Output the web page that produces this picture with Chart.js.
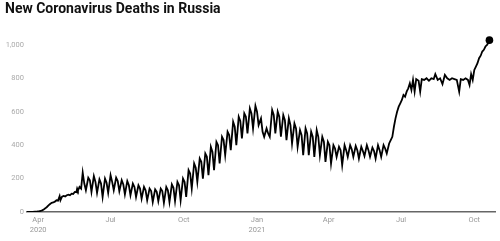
<!DOCTYPE html>
<html>
<head>
<meta charset="utf-8">
<script src="https://cdn.jsdelivr.net/npm/chart.js@4"></script>
<style>
  html, body { margin: 0; padding: 0; background: #fff; }
  #wrap { width: 500px; height: 241px; }
</style>
</head>
<body>
<div id="wrap"><canvas id="deathsChart"></canvas></div>
<script>
// day = days since 2020-03-15
const days = [
  3, 7, 10, 13, 16, 18, 20, 22, 24, 26, 28, 30, 32, 34, 36, 38, 40, 42, 44, 45,
  47, 49, 51, 53, 55, 57, 59, 61, 63, 65, 66, 67, 69, 71,
  73, 75, 77, 80, 82, 84, 87, 89, 91, 94, 96, 98,
  101, 103, 105, 108, 110, 112, 115, 117, 119, 122, 124, 126,
  129, 131, 133, 136, 138, 140, 143, 145, 147, 150, 152, 154,
  157, 159, 161, 164, 166, 168, 171, 173, 175, 178, 180, 182,
  185, 187, 189, 192, 194, 196, 199, 201, 203, 206, 208, 210,
  213, 215, 217, 220, 222, 224, 227, 229, 231, 234, 236, 238,
  241, 243, 245, 248, 250, 252, 255, 257, 259, 262, 264, 266,
  269, 271, 273, 276, 278, 280, 283, 285, 287, 290, 292, 294,
  297, 299, 301, 304, 306, 308, 311, 313, 315, 318, 320, 322,
  325, 327, 329, 332, 334, 336, 339, 341, 343, 346, 348, 350,
  353, 355, 357, 360, 362, 364, 367, 369, 371, 374, 376, 378,
  381, 383, 385, 388, 390, 392, 395, 397, 399, 402, 404, 406,
  409, 411, 413, 416, 418, 420, 423, 425, 427, 430, 432, 434,
  437, 439, 441, 444, 446, 448, 451, 453, 455,
  458, 460, 462, 464, 466, 468, 470, 472, 474, 476, 478, 480, 482, 484, 486, 488,
  490, 492, 495, 497, 499, 502, 505, 508, 511, 514, 516, 519, 522, 525, 528, 531,
  534, 537, 540, 543, 546, 548, 551, 554, 557, 559, 561, 563, 565, 567, 569, 571,
  573, 575, 577, 579, 581, 583, 584
];
const deaths = [
  0, 0, 1, 2, 3, 4, 6, 10, 15, 22, 30, 40, 48, 55, 57, 62, 70, 68, 95, 70,
  92, 96, 93, 100, 104, 100, 110, 108, 120, 118, 140, 128, 150, 140,
  235, 170, 130, 205, 190, 120, 215, 180, 115, 195, 170, 90,
  200, 175, 115, 220, 180, 130, 205, 185, 125, 190, 165, 105,
  185, 160, 100, 170, 150, 90, 160, 140, 80, 150, 130, 70,
  140, 125, 60, 135, 120, 65, 140, 125, 55, 150, 130, 60,
  165, 145, 65, 180, 160, 70, 200, 180, 90, 250, 230, 140,
  290, 265, 180, 320, 300, 200, 350, 330, 220, 390, 360, 250,
  420, 400, 290, 450, 430, 340, 480, 460, 370, 540, 510, 400,
  570, 545, 440, 590, 570, 470, 620, 590, 500, 635, 600, 520,
  560, 480, 450, 500, 470, 450, 610, 580, 470, 600, 570, 450,
  580, 550, 430, 560, 520, 410, 530, 500, 390, 490, 460, 340,
  500, 470, 340, 480, 450, 330, 490, 450, 340, 450, 420, 300,
  420, 400, 290, 400, 380, 330, 390, 370, 280, 400, 370, 330,
  400, 375, 330, 395, 370, 320, 390, 365, 335, 400, 370, 330,
  385, 365, 320, 400, 370, 330, 400, 380, 350,
  410, 430, 450, 510, 560, 600, 630, 650, 670, 700, 690, 720, 740, 770, 730, 790,
  720, 795, 785, 720, 795, 790, 800, 785, 800, 795, 825, 790, 800, 765, 820, 800,
  790, 800, 795, 790, 720, 795, 790, 800, 790, 760, 825, 790, 850, 870, 890, 920,
  935, 960, 970, 990, 1000, 1015, 1028
];

const tickDays = [17, 108, 200, 292, 382, 473, 565];
const tickLabels = [['Apr', '2020'], 'Jul', 'Oct', ['Jan', '2021'], 'Apr', 'Jul', 'Oct'];
const yTicks = [0, 200, 400, 600, 800, 1000];

const points = days.map((d, i) => ({ x: d, y: deaths[i] }));
const lastIndex = points.length - 1;

const ctx = document.getElementById('deathsChart').getContext('2d');

new Chart(ctx, {
  type: 'line',
  data: {
    datasets: [{
      label: 'New deaths',
      data: points,
      borderColor: '#000',
      borderWidth: 1.8,
      tension: 0,
      fill: false,
      pointRadius: (c) => (c.dataIndex === lastIndex ? 3.8 : 0),
      pointBackgroundColor: '#000',
      pointBorderWidth: 0
    }]
  },
  options: {
    responsive: true,
    maintainAspectRatio: false,
    animation: false,
    layout: { padding: { left: 5, right: 5, top: 0, bottom: 0 } },
    plugins: {
      legend: { display: false },
      tooltip: { enabled: false },
      title: {
        display: true,
        text: 'New Coronavirus Deaths in Russia',
        align: 'start',
        color: '#111',
        font: { family: 'Roboto', size: 14, weight: 'bold', lineHeight: 1.2 },
        padding: { top: 1, bottom: 17 }
      }
    },
    scales: {
      x: {
        type: 'linear',
        min: 3,
        max: 591,
        grid: { display: false, drawTicks: false },
        border: { display: true, color: '#666', width: 1.5 },
        afterBuildTicks: (scale) => {
          scale.ticks = tickDays.map(v => ({ value: v }));
        },
        afterFit: (scale) => { scale.height = 29; },
        ticks: {
          autoSkip: false,
          maxRotation: 0,
          padding: 3,
          color: '#999',
          font: { family: 'Roboto', size: 7.5, lineHeight: 1.35 },
          callback: (value) => {
            const i = tickDays.indexOf(value);
            return i >= 0 ? tickLabels[i] : '';
          }
        }
      },
      y: {
        min: 0,
        max: 1060,
        grid: { display: false, drawTicks: false },
        border: { display: false },
        afterBuildTicks: (scale) => {
          scale.ticks = yTicks.map(v => ({ value: v }));
        },
        afterFit: (scale) => { scale.width = 22; },
        ticks: {
          padding: 3,
          color: '#aaa',
          font: { family: 'Roboto', size: 7.5 },
          callback: (value) => value.toLocaleString('en-US')
        }
      }
    }
  }
});
</script>
</body>
</html>
